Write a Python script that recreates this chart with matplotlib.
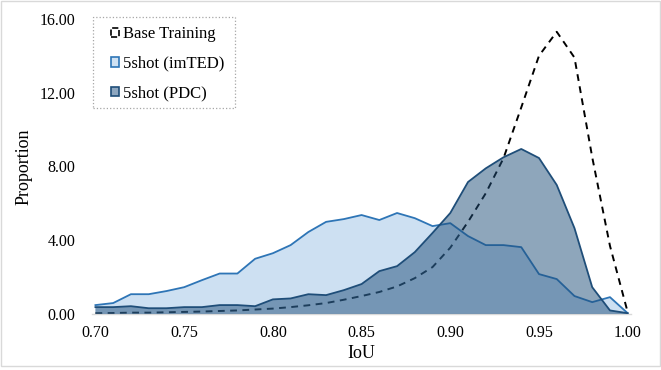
import numpy as np
import matplotlib
matplotlib.use("Agg")
import matplotlib.pyplot as plt
from matplotlib.patches import Patch, Rectangle

iou = [0.70, 0.71, 0.72, 0.73, 0.74, 0.75, 0.76, 0.77, 0.78, 0.79,
       0.80, 0.81, 0.82, 0.83, 0.84, 0.85, 0.86, 0.87, 0.88, 0.89,
       0.90, 0.91, 0.92, 0.93, 0.94, 0.95, 0.96, 0.97, 0.98, 0.99, 1.00]

base_training = [0.05, 0.06, 0.08, 0.08, 0.10, 0.12, 0.14, 0.17, 0.20, 0.25,
                 0.30, 0.38, 0.48, 0.60, 0.78, 0.98, 1.20, 1.50, 1.95, 2.55,
                 3.60, 5.00, 6.55, 8.45, 11.20, 14.00, 15.30, 13.90, 8.50, 3.70, 0.10]

imted = [0.49, 0.60, 1.08, 1.08, 1.25, 1.46, 1.84, 2.20, 2.20, 3.00,
         3.30, 3.74, 4.45, 5.00, 5.15, 5.37, 5.10, 5.48, 5.20, 4.77,
         4.93, 4.23, 3.74, 3.74, 3.63, 2.17, 1.90, 0.98, 0.65, 0.92, 0.05]

pdc = [0.38, 0.38, 0.43, 0.32, 0.32, 0.38, 0.38, 0.49, 0.49, 0.43,
       0.80, 0.85, 1.08, 1.03, 1.30, 1.63, 2.33, 2.60, 3.36, 4.40,
       5.48, 7.16, 7.90, 8.50, 8.95, 8.46, 7.00, 4.66, 1.46, 0.20, 0.05]

yticks = [0, 4, 8, 12, 16]
xticks = [0.70, 0.75, 0.80, 0.85, 0.90, 0.95, 1.00]

plt.rcParams['font.family'] = ['Liberation Serif', 'DejaVu Serif']

fig = plt.figure(figsize=(6.61, 3.70), dpi=100)
ax = fig.add_axes([0.139, 0.151, 0.816, 0.798])

x = np.array(iou)
ax.plot(x, base_training, color='black', linestyle=(0, (3.5, 2.8)), linewidth=1.4, zorder=1)

ax.fill_between(x, 0, imted, facecolor='#5B9BD5', alpha=0.3, linewidth=0, zorder=2)
ax.plot(x, imted, color='#2E75B6', linewidth=1.3, zorder=2.5)

ax.fill_between(x, 0, pdc, facecolor='#1F4E79', alpha=0.5, linewidth=0, zorder=3)
ax.plot(x, pdc, color='#1F4E79', linewidth=1.3, zorder=3.5)

ax.set_xlim(0.698, 1.002)
ax.set_ylim(0, 16)
ax.set_xticks(xticks)
ax.set_xticklabels([f"{v:.2f}" for v in xticks], fontsize=11.5)
ax.set_yticks(yticks)
ax.set_yticklabels([f"{v:.2f}" for v in yticks], fontsize=11.5)
ax.tick_params(axis='x', length=0, pad=8)
ax.tick_params(axis='y', length=0, pad=12)

for s in ['top', 'right', 'left']:
    ax.spines[s].set_visible(False)
ax.spines['bottom'].set_color('#d9d9d9')
ax.spines['bottom'].set_linewidth(1.0)

ax.set_xlabel('IoU', fontsize=13, labelpad=2.5)
ax.set_ylabel('Proportion', fontsize=13, labelpad=5)

handles = [
    Patch(facecolor='none', edgecolor='black', linestyle='--', linewidth=1.2, label='Base Training'),
    Patch(facecolor='#cfe1f2', edgecolor='#2E75B6', linewidth=1.2, label='5shot (imTED)'),
    Patch(facecolor='#8ea7c0', edgecolor='#1F4E79', linewidth=1.2, label='5shot (PDC)'),
]
leg = ax.legend(handles=handles, loc='upper left', bbox_to_anchor=(111 / 661, 1 - 26.5 / 370),
                bbox_transform=fig.transFigure, fontsize=12, frameon=False,
                handlelength=0.5, handleheight=0.5, handletextpad=0.2,
                labelspacing=0.8, borderpad=0, borderaxespad=0)

fig.patches.append(Rectangle((93 / 661, 1 - 108 / 370), 142 / 661, 91 / 370,
                             transform=fig.transFigure, fill=False,
                             edgecolor='#a6a6a6', linestyle=':', linewidth=0.9))

fig.patches.append(Rectangle((0.002, 0.01), 0.996, 0.987, transform=fig.transFigure,
                             fill=False, edgecolor='#d9d9d9', linewidth=1.0))

fig.savefig('out.png', dpi=100)
